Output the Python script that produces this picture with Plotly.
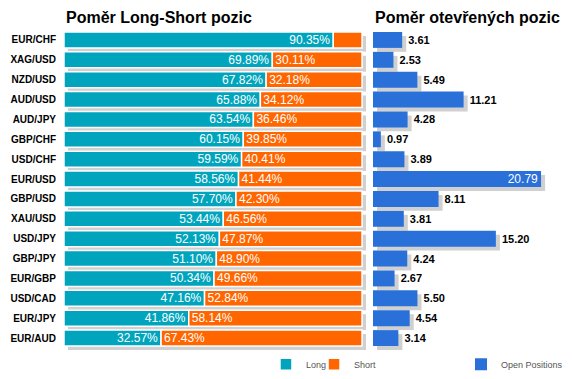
import plotly.graph_objects as go

pairs = ["EUR/CHF", "XAG/USD", "NZD/USD", "AUD/USD", "AUD/JPY", "GBP/CHF", "USD/CHF", "EUR/USD",
         "GBP/USD", "XAU/USD", "USD/JPY", "GBP/JPY", "EUR/GBP", "USD/CAD", "EUR/JPY", "EUR/AUD"]
long_pct = [90.35, 69.89, 67.82, 65.88, 63.54, 60.15, 59.59, 58.56,
            57.70, 53.44, 52.13, 51.10, 50.34, 47.16, 41.86, 32.57]
short_pct = [9.65, 30.11, 32.18, 34.12, 36.46, 39.85, 40.41, 41.44,
             42.30, 46.56, 47.87, 48.90, 49.66, 52.84, 58.14, 67.43]
open_pos = [3.61, 2.53, 5.49, 11.21, 4.28, 0.97, 3.89, 20.79,
            8.11, 3.81, 15.20, 4.24, 2.67, 5.50, 4.54, 3.14]

FONT = "Liberation Sans, Arial, sans-serif"
CYAN = "#00A5BD"
ORANGE = "#FF6600"
BLUE = "#2970D9"
SHADOW = "#D0D0D0"

totals = [l + s for l, s in zip(long_pct, short_pct)]
fig = go.Figure()

# shadows (left)
fig.add_trace(go.Bar(y=pairs, x=totals, base=1.35, orientation="h", width=0.8, offset=-0.2,
                     marker=dict(color=SHADOW, line=dict(width=0)), showlegend=False,
                     hoverinfo="skip", xaxis="x", yaxis="y", cliponaxis=False))
fig.add_trace(go.Bar(y=pairs, x=long_pct, orientation="h", width=0.8, offset=-0.4, name="Long",
                     marker=dict(color=CYAN, line=dict(width=1.5, color="white")),
                     text=[f"{v:.2f}%" for v in long_pct], textposition="inside",
                     insidetextanchor="end", textangle=0, constraintext="none",
                     insidetextfont=dict(color="white", size=12, family=FONT),
                     xaxis="x", yaxis="y", legend="legend", cliponaxis=False))
fig.add_trace(go.Bar(y=pairs, x=short_pct, base=long_pct, orientation="h", width=0.8, offset=-0.4,
                     name="Short",
                     marker=dict(color=ORANGE, line=dict(width=1.5, color="white")),
                     text=[f"{v:.2f}%" if v > 15 else "" for v in short_pct], textposition="inside",
                     insidetextanchor="start", textangle=0, constraintext="none",
                     insidetextfont=dict(color="white", size=12, family=FONT),
                     xaxis="x", yaxis="y", legend="legend3", cliponaxis=False))

# right chart
vmax = max(open_pos)
fig.add_trace(go.Bar(y=pairs, x=open_pos, base=0.5, orientation="h", width=0.8, offset=-0.2,
                     marker=dict(color=SHADOW, line=dict(width=0)), showlegend=False,
                     hoverinfo="skip", xaxis="x2", yaxis="y2", cliponaxis=False))
fig.add_trace(go.Bar(y=pairs, x=open_pos, orientation="h", width=0.8, offset=-0.4,
                     name="Open Positions",
                     marker=dict(color=BLUE, line=dict(width=0)),
                     text=[f"{v:.2f}" if v == vmax else f" {v:.2f}" for v in open_pos],
                     textposition=["inside" if v == vmax else "outside" for v in open_pos],
                     insidetextanchor="end", textangle=0, constraintext="none",
                     insidetextfont=dict(color="white", size=12, family=FONT),
                     outsidetextfont=dict(color="black", size=11, family=FONT, weight="bold"),
                     xaxis="x2", yaxis="y2", legend="legend2", cliponaxis=False))

legend_font = dict(size=9, color="#555555", family=FONT)
def leg(x):
    return dict(orientation="h", xref="container", yref="container", x=x, y=0.04,
                xanchor="left", yanchor="middle", font=legend_font, bgcolor="rgba(0,0,0,0)",
                borderwidth=0)

fig.update_layout(
    width=564, height=371,
    margin=dict(l=56, r=5, t=22, b=29, autoexpand=False),
    paper_bgcolor="white", plot_bgcolor="white",
    barmode="overlay",
    font=dict(family=FONT),
    xaxis=dict(domain=[0, 0.6014], range=[0, 101.5], visible=False, fixedrange=True),
    xaxis2=dict(domain=[0.6143, 1.0], range=[0, 24], visible=False, fixedrange=True),
    yaxis=dict(autorange="reversed", showgrid=False, zeroline=False, showline=False, ticks="",
               automargin=False,
               tickfont=dict(size=10, color="black", family=FONT, weight="bold"), ticklabelstandoff=7),
    yaxis2=dict(autorange="reversed", anchor="x2", matches="y", showgrid=False, zeroline=False,
                showline=False, showticklabels=False, automargin=False),
    legend=leg(0.4574),
    legend3=leg(0.5426),
    legend2=leg(0.8032),
    showlegend=True,
    annotations=[
        dict(text="<b>Poměr Long-Short pozic</b>", xref="paper", yref="paper", x=0, y=1.04,
             xanchor="left", yanchor="middle", showarrow=False,
             font=dict(size=16, color="black", family=FONT)),
        dict(text="<b>Poměr otevřených pozic</b>", xref="paper", yref="paper", x=0.6143, y=1.04,
             xanchor="left", yanchor="middle", showarrow=False,
             font=dict(size=16, color="black", family=FONT)),
    ],
)

fig.write_html("out.html")
